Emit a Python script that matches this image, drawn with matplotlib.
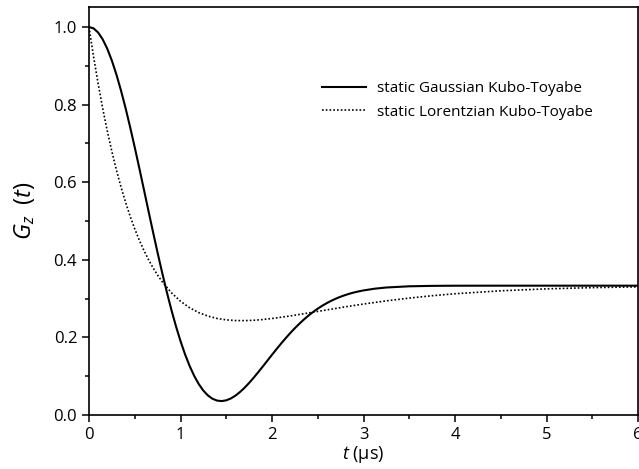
import matplotlib
matplotlib.use("Agg")
import matplotlib.pyplot as plt

# Static Gaussian Kubo-Toyabe
t_gauss = [0.0, 0.05, 0.1, 0.15, 0.2, 0.25, 0.3, 0.35, 0.4, 0.45, 0.5, 0.55, 0.6, 0.65,
           0.7, 0.75, 0.8, 0.85, 0.9, 0.95, 1.0, 1.05, 1.1, 1.15, 1.2, 1.25, 1.3, 1.35,
           1.4, 1.45, 1.5, 1.55, 1.6, 1.65, 1.7, 1.75, 1.8, 1.85, 1.9, 1.95, 2.0, 2.05,
           2.1, 2.15, 2.2, 2.25, 2.3, 2.35, 2.4, 2.45, 2.5, 2.55, 2.6, 2.65, 2.7, 2.75,
           2.8, 2.85, 2.9, 2.95, 3.0, 3.125, 3.25, 3.5, 3.75, 4.0, 4.5, 5.0, 5.5, 6.0]
g_gauss = [1.0, 0.9964, 0.9857, 0.9680, 0.9438, 0.9133, 0.8772, 0.8360, 0.7906, 0.7415,
           0.6897, 0.6360, 0.5811, 0.5259, 0.4713, 0.4178, 0.3663, 0.3173, 0.2714, 0.2290,
           0.1906, 0.1562, 0.1262, 0.1007, 0.0795, 0.0628, 0.0503, 0.0418, 0.0371, 0.0359,
           0.0378, 0.0426, 0.0498, 0.0592, 0.0702, 0.0827, 0.0962, 0.1105, 0.1252, 0.1402,
           0.1552, 0.1699, 0.1843, 0.1981, 0.2113, 0.2238, 0.2355, 0.2464, 0.2565, 0.2657,
           0.2741, 0.2817, 0.2885, 0.2946, 0.3001, 0.3049, 0.3091, 0.3128, 0.3160, 0.3187,
           0.3211, 0.3256, 0.3286, 0.3317, 0.3328, 0.3332, 0.3333, 0.3333, 0.3333, 0.3333]

# Static Lorentzian Kubo-Toyabe
t_lor = [0.0, 0.025, 0.05, 0.1, 0.15, 0.2, 0.25, 0.3, 0.35, 0.4, 0.45, 0.5, 0.55, 0.6,
         0.65, 0.7, 0.75, 0.8, 0.9, 1.0, 1.1, 1.2, 1.3, 1.4, 1.5, 1.6, 1.7, 1.8, 1.9,
         2.0, 2.2, 2.4, 2.6, 2.8, 3.0, 3.25, 3.5, 3.75, 4.0, 4.5, 5.0, 5.5, 6.0]
g_lor = [1.0, 0.9609, 0.9235, 0.8537, 0.7899, 0.7319, 0.6790, 0.6310, 0.5874, 0.5479,
         0.5120, 0.4797, 0.4505, 0.4242, 0.4006, 0.3794, 0.3604, 0.3435, 0.3152, 0.2932,
         0.2763, 0.2638, 0.2549, 0.2488, 0.2452, 0.2434, 0.2432, 0.2441, 0.2461, 0.2487,
         0.2553, 0.2630, 0.2709, 0.2787, 0.2860, 0.2942, 0.3013, 0.3074, 0.3125, 0.3201,
         0.3251, 0.3283, 0.3302]

labels = ["static Gaussian Kubo-Toyabe", "static Lorentzian Kubo-Toyabe"]
x_ticks = [0, 1, 2, 3, 4, 5, 6]
y_ticks = [0.0, 0.2, 0.4, 0.6, 0.8, 1.0]

plt.rcParams['font.family'] = ['Open Sans', 'DejaVu Sans']
plt.rcParams['mathtext.fontset'] = 'custom'
plt.rcParams['mathtext.rm'] = 'Open Sans'
plt.rcParams['mathtext.it'] = 'Open Sans:italic'

fig = plt.figure(figsize=(6.39, 4.69), dpi=100)
ax = fig.add_axes([89/639, 1-415/469, 549/639, 408/469])

ax.plot(t_gauss, g_gauss, color='black', lw=1.5, label=labels[0])
ax.plot(t_lor, g_lor, color='black', lw=1.2, linestyle=(0, (1, 1.25)), label=labels[1])

ax.set_xlim(0, 6)
ax.set_ylim(0, 1.0515)
ax.set_xticks(x_ticks)
ax.set_xticklabels([str(v) for v in x_ticks])
ax.set_yticks(y_ticks)
ax.set_yticklabels([f"{v:.1f}" for v in y_ticks])
ax.set_xticks([0.5, 1.5, 2.5, 3.5, 4.5, 5.5], minor=True)
ax.set_yticks([0.1, 0.3, 0.5, 0.7, 0.9], minor=True)
ax.tick_params(which='major', direction='out', length=5, width=1.1, labelsize=12)
ax.tick_params(which='minor', direction='out', length=3, width=1.1)
for s in ax.spines.values():
    s.set_linewidth(1.2)

ax.set_xlabel(r'$t$ (µs)', fontsize=13, labelpad=1)
ax.set_ylabel(r'$G_{z}\;\;(t)$', fontsize=17, labelpad=12)

leg = ax.legend(loc='center left', bbox_to_anchor=((322-89)/549, (415-100.5)/408),
                frameon=False, fontsize=11, handlelength=2.9, handletextpad=0.7,
                labelspacing=0.55, borderpad=0, borderaxespad=0)

fig.savefig('out.png', dpi=100)
